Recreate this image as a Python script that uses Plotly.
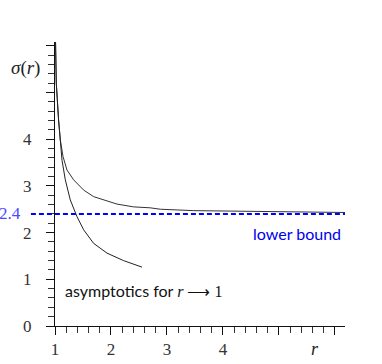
import plotly.graph_objects as go

# upper curve sigma(r)
r_sigma = [1.002, 1.005, 1.023, 1.064, 1.095, 1.143, 1.214, 1.332, 1.511, 1.689,
           1.868, 2.107, 2.404, 2.70, 2.88, 3.475, 4.13, 5.44, 6.18]
sigma = [6.6, 6.06, 5.20, 4.41, 3.98, 3.63, 3.34, 3.13, 2.91, 2.77,
         2.70, 2.61, 2.55, 2.53, 2.50, 2.47, 2.46, 2.45, 2.43]

# asymptotics for r -> 1
r_asym = [1.002, 1.005, 1.023, 1.064, 1.095, 1.125, 1.184, 1.273, 1.393, 1.511,
          1.689, 1.929, 2.225, 2.554]
sigma_asym = [6.6, 6.06, 5.20, 4.41, 3.98, 3.55, 3.13, 2.70, 2.34, 2.06,
              1.77, 1.56, 1.40, 1.26]

lower_bound = 2.4

x_ticks = [1, 2, 3, 4, 5, 6]
x_labels = ["1", "2", "3", "4", "", ""]
y_ticks = [0, 1, 2, 3, 4, 5, 6]
y_labels = ["0", "1", "2", "3", "4", "", ""]

serif = "Liberation Serif"
sans = "Lato"

fig = go.Figure()

fig.add_trace(go.Scatter(x=r_sigma, y=sigma, mode="lines",
                         line=dict(color="#333333", width=1), showlegend=False))
fig.add_trace(go.Scatter(x=r_asym, y=sigma_asym, mode="lines",
                         line=dict(color="#222222", width=1), showlegend=False))

# dashed lower bound, runs a bit past the y axis
fig.add_shape(type="line", xref="paper", yref="y", x0=-0.083, x1=1.0,
              y0=lower_bound, y1=lower_bound,
              line=dict(color="#0000ff", width=2, dash="5px,3px"))

axis_common = dict(showline=True, linecolor="#111111", linewidth=1,
                   showgrid=False, zeroline=False, ticks="outside",
                   tickcolor="#111111", ticklen=8, tickwidth=1,
                   tickfont=dict(family=serif, size=17, color="#333333"),
                   tickmode="array", automargin=False)

fig.update_xaxes(range=[1, 6.18], tickvals=x_ticks, ticktext=x_labels,
                 minor=dict(tick0=1, dtick=0.2, ticks="outside", ticklen=6,
                            tickcolor="#333333", tickwidth=1),
                 **axis_common)
fig.update_yaxes(range=[0, 6.08], tickvals=y_ticks, ticktext=y_labels,
                 ticklabelstandoff=11,
                 minor=dict(tick0=0, dtick=0.2, ticks="outside", ticklen=6,
                            tickcolor="#333333", tickwidth=1),
                 **axis_common)

fig.add_annotation(xref="paper", yref="y", x=-0.103, y=5.52, xanchor="center",
                   text="<i>σ</i>(<i>r</i>)", showarrow=False,
                   font=dict(family=serif, size=19, color="#222222"))
fig.add_annotation(xref="paper", yref="y", x=-0.11, y=lower_bound,
                   xanchor="right", text="2.4", showarrow=False,
                   font=dict(family=serif, size=17, color="#4a4aff"))
fig.add_annotation(xref="paper", yref="y", x=0.993, y=lower_bound,
                   xanchor="right", yanchor="middle", yshift=-20,
                   text="lower bound", showarrow=False,
                   font=dict(family=sans, size=16, color="#0000ee"))
fig.add_annotation(xref="x", yref="y", x=1.15, y=0.75, xanchor="left",
                   text="asymptotics for <span style='font-family:Liberation Serif'><i>r</i> ⟶ 1</span>",
                   showarrow=False,
                   font=dict(family=sans, size=16, color="#111111"))
fig.add_annotation(xref="x", yref="paper", x=5.64, y=-0.081,
                   xanchor="center", yanchor="middle",
                   text="<i>r</i>", showarrow=False,
                   font=dict(family=serif, size=18, color="#222222"))

fig.update_layout(width=382, height=364,
                  margin=dict(l=55, r=37, t=42, b=38),
                  plot_bgcolor="white", paper_bgcolor="white")

# drop the default page margin so the figure sits at the window corner
fig.write_html("out.html", config={"displayModeBar": False},
               post_script="document.body.style.margin='0px';document.body.style.overflow='hidden';")
